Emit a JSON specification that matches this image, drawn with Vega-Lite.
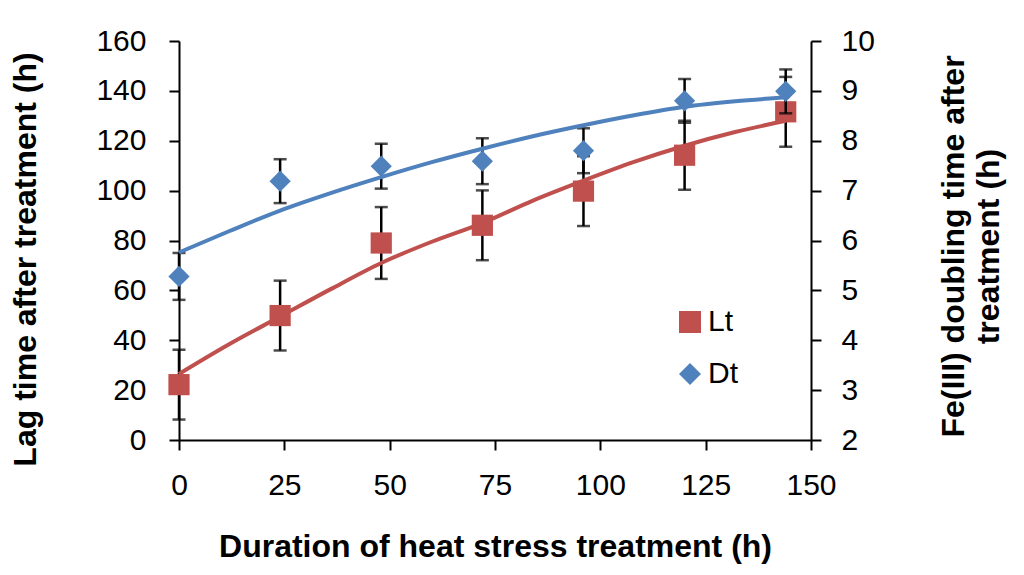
{
  "$schema": "https://vega.github.io/schema/vega-lite/v6.json",
  "width": 632,
  "height": 399,
  "autosize": {"type": "none"},
  "padding": {"left": 179, "top": 41, "right": 213, "bottom": 135},
  "background": "white",
  "datasets": {
    "points": [
      {"t": 0, "lt": 22.2, "ltErr": 14, "dt": 5.28, "dtErr": 0.47},
      {"t": 24, "lt": 49.9, "ltErr": 14, "dt": 7.19, "dtErr": 0.44},
      {"t": 48, "lt": 79.0, "ltErr": 14.4, "dt": 7.49, "dtErr": 0.45},
      {"t": 72, "lt": 86.1, "ltErr": 14, "dt": 7.59, "dtErr": 0.46},
      {"t": 96, "lt": 99.8, "ltErr": 14, "dt": 7.8, "dtErr": 0.45},
      {"t": 120, "lt": 114.2, "ltErr": 13.8, "dt": 8.8, "dtErr": 0.44},
      {"t": 144, "lt": 131.6, "ltErr": 14, "dt": 8.99, "dtErr": 0.44}
    ],
    "fit": [
      {"t": 0, "lt": 26.5, "dt": 5.76},
      {"t": 12, "lt": 38.5, "dt": 6.19},
      {"t": 24, "lt": 49.5, "dt": 6.6},
      {"t": 36, "lt": 60.5, "dt": 6.95},
      {"t": 48, "lt": 71, "dt": 7.27},
      {"t": 60, "lt": 79.5, "dt": 7.57},
      {"t": 72, "lt": 87, "dt": 7.84},
      {"t": 84, "lt": 96, "dt": 8.09},
      {"t": 96, "lt": 104, "dt": 8.31},
      {"t": 108, "lt": 111.5, "dt": 8.51},
      {"t": 120, "lt": 118, "dt": 8.68},
      {"t": 132, "lt": 123.5, "dt": 8.79},
      {"t": 144, "lt": 128, "dt": 8.87}
    ]
  },
  "encoding": {
    "x": {
      "field": "t", "type": "quantitative",
      "scale": {"domain": [0, 150]},
      "axis": {"values": [0, 25, 50, 75, 100, 125, 150], "title": "Duration of heat stress treatment (h)", "labelFlush": false, "labelPadding": 20, "titlePadding": 31}
    }
  },
  "layer": [
    {
      "encoding": {
        "y": {
          "field": "lt", "type": "quantitative",
          "scale": {"domain": [0, 160]},
          "axis": {"values": [0, 20, 40, 60, 80, 100, 120, 140, 160], "title": "Lag time after treatment (h)", "labelPadding": 23, "titlePadding": 53, "titleY": 218}
        }
      },
      "layer": [
        {
          "data": {"name": "points"},
          "mark": {"type": "errorbar", "ticks": {"size": 13, "thickness": 2.5, "color": "black"}, "rule": {"strokeWidth": 2.5, "color": "black"}},
          "encoding": {"yError": {"field": "ltErr"}}
        },
        {
          "data": {"name": "fit"},
          "mark": {"type": "line", "color": "#C0504D", "strokeWidth": 4, "interpolate": "monotone"}
        },
        {
          "data": {"name": "points"},
          "mark": {"type": "point", "filled": true, "size": 450, "opacity": 1},
          "encoding": {
            "color": {"datum": "Lt", "scale": {"domain": ["Lt", "Dt"], "range": ["#C0504D", "#4F81BD"]}},
            "shape": {"datum": "Lt", "scale": {"domain": ["Lt", "Dt"], "range": ["square", "diamond"]}}
          }
        }
      ]
    },
    {
      "encoding": {
        "y": {
          "field": "dt", "type": "quantitative",
          "scale": {"domain": [2, 10]},
          "axis": {"orient": "right", "values": [2, 3, 4, 5, 6, 7, 8, 9, 10], "title": ["Fe(III) doubling time after", "treatment (h)"], "titleAngle": 270, "titleBaseline": "top", "titleLineHeight": 35, "labelPadding": 20, "titlePadding": 29, "titleY": 205}
        }
      },
      "layer": [
        {
          "data": {"name": "points"},
          "mark": {"type": "errorbar", "ticks": {"size": 13, "thickness": 2.5, "color": "black"}, "rule": {"strokeWidth": 2.5, "color": "black"}},
          "encoding": {"yError": {"field": "dtErr"}}
        },
        {
          "data": {"name": "fit"},
          "mark": {"type": "line", "color": "#4F81BD", "strokeWidth": 4, "interpolate": "monotone"}
        },
        {
          "data": {"name": "points"},
          "mark": {"type": "point", "filled": true, "size": 450, "opacity": 1},
          "encoding": {
            "color": {"datum": "Dt"},
            "shape": {"datum": "Dt"}
          }
        }
      ]
    }
  ],
  "resolve": {"scale": {"y": "independent"}},
  "config": {
    "view": {"stroke": null},
    "font": "Liberation Sans",
    "axis": {
      "grid": false,
      "domainColor": "black", "domainWidth": 2,
      "tickColor": "black", "tickWidth": 2, "tickSize": 10,
      "labelFont": "Liberation Sans", "labelFontSize": 30, "labelColor": "black",
      "titleFont": "Liberation Sans", "titleFontSize": 32, "titleFontWeight": "bold", "titleColor": "black"
    },
    "legend": {
      "orient": "none", "legendX": 496, "legendY": 266,
      "title": null,
      "labelFont": "Liberation Sans", "labelFontSize": 30, "labelColor": "black",
      "symbolSize": 484, "symbolStrokeWidth": 0, "symbolOpacity": 1,
      "rowPadding": 22, "labelOffset": 3
    }
  }
}
